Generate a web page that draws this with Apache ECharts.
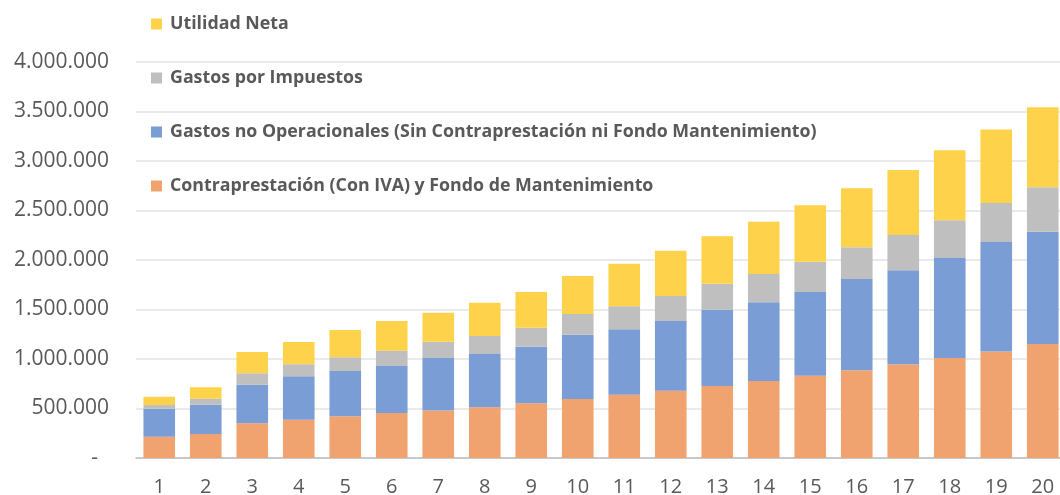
<!DOCTYPE html>
<html>
<head>
<meta charset="utf-8">
<script src="https://cdn.jsdelivr.net/npm/echarts@6/dist/echarts.min.js"></script>
<style>
html,body{margin:0;padding:0;background:#fff;}
#chart{width:1060px;height:495px;}
</style>
</head>
<body>
<div id="chart"></div>
<script>
const categories = ['1','2','3','4','5','6','7','8','9','10','11','12','13','14','15','16','17','18','19','20'];
const contraprestacion = [215000,242000,350000,387000,421000,455000,481000,512000,552000,596000,640000,680000,727000,778000,832000,886000,946000,1010000,1077000,1152000];
const gastosNoOperacionales = [283000,296000,391000,438000,458000,474000,529000,539000,573000,650000,660000,704000,771000,794000,845000,922000,950000,1010000,1105000,1134000];
const gastosImpuestos = [37000,61000,114000,121000,138000,155000,165000,181000,191000,209000,232000,252000,263000,287000,306000,320000,357000,381000,394000,448000];
const utilidadNeta = [84000,115000,216000,226000,276000,300000,293000,337000,361000,383000,431000,458000,478000,528000,569000,596000,656000,707000,741000,808000];
const seriesNames = [
  'Contraprestación (Con IVA) y Fondo de Mantenimiento',
  'Gastos no Operacionales (Sin Contraprestación ni Fondo Mantenimiento)',
  'Gastos por Impuestos',
  'Utilidad Neta'
];
const yTicks = { min: 0, max: 4000000, interval: 500000 };

function fmt(v){
  if (v === 0) return '{d|-}';
  return String(v).replace(/\B(?=(\d{3})+(?!\d))/g, '.');
}

const chart = echarts.init(document.getElementById('chart'), null, {renderer:'canvas'});
const colors = ['#F0A36E','#7B9DD5','#BFBFBF','#FED24A'];
const dataSets = [contraprestacion, gastosNoOperacionales, gastosImpuestos, utilidadNeta];

chart.setOption({
  animation: false,
  backgroundColor: '#ffffff',
  color: colors,
  textStyle: { fontFamily: '"Open Sans", sans-serif' },
  legend: {
    orient: 'vertical',
    left: 146,
    top: 10,
    itemWidth: 11,
    itemHeight: 11,
    itemGap: 36,
    icon: 'rect',
    data: seriesNames.slice().reverse(),
    textStyle: { fontSize: 17.8, fontWeight: 'bold', color: '#595959', lineHeight: 18, padding: [0,0,0,3] }
  },
  grid: { left: 136, right: -6, top: 62, bottom: 37, containLabel: false, outerBoundsMode: 'none' },
  xAxis: {
    type: 'category',
    data: categories,
    axisLine: { lineStyle: { color: '#BFBFBF', width: 1.5 } },
    axisTick: { show: false },
    axisLabel: { color: '#595959', fontSize: 20, margin: 19 }
  },
  yAxis: {
    type: 'value',
    min: yTicks.min, max: yTicks.max, interval: yTicks.interval,
    axisLine: { show: false },
    axisTick: { show: false },
    splitLine: { lineStyle: { color: '#E3E3E3', width: 1.5 } },
    axisLabel: {
      color: '#595959', fontSize: 21, margin: 27,
      formatter: fmt,
      rich: { d: { color: '#595959', fontSize: 21, padding: [0,11,0,0] } }
    }
  },
  series: dataSets.map((d, i) => ({
    name: seriesNames[i],
    type: 'bar',
    stack: 'total',
    data: d,
    barCategoryGap: '32%',
    itemStyle: { color: colors[i] }
  }))
});
</script>
</body>
</html>
